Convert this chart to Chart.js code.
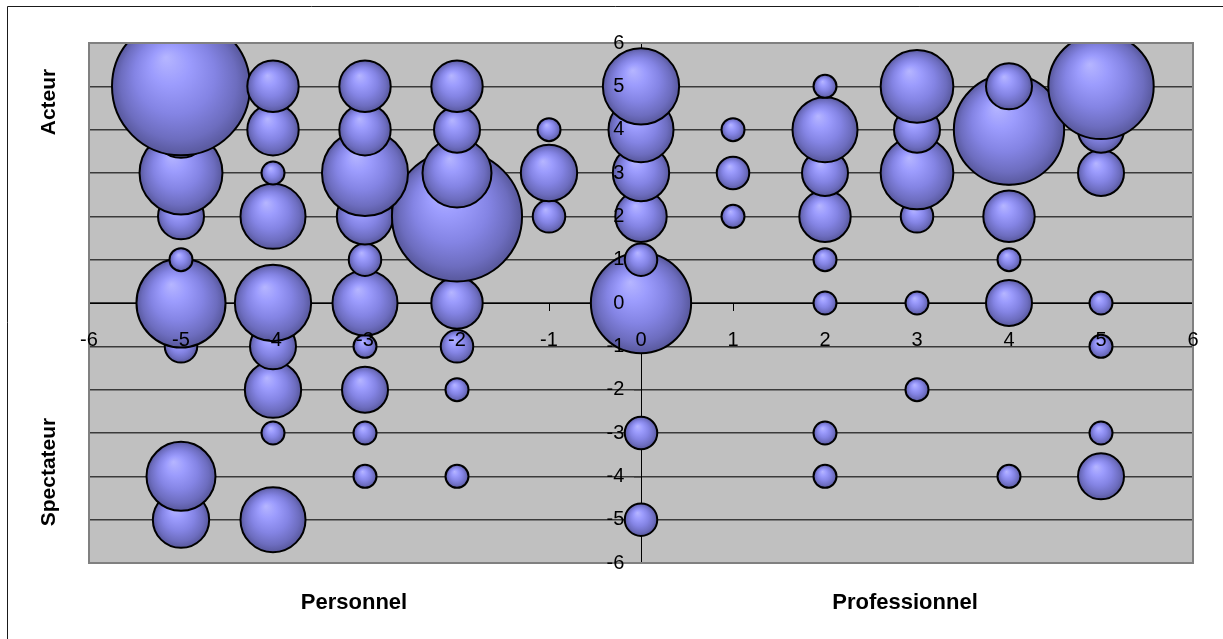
<!DOCTYPE html>
<html>
<head>
<meta charset="utf-8">
<script src="https://cdn.jsdelivr.net/npm/chart.js@4.4.1/dist/chart.umd.min.js"></script>
<style>
  body { margin: 0; background: #fff; }
  canvas { display: block; }
</style>
</head>
<body>
<canvas id="bubbleChart" width="1223" height="639"></canvas>
<script>
// bubble positions, listed row by row from y=-5 up to y=5 (drawing order)
const xPos = [
  -5, -4, 0,
  -5, -3, -2, 2, 4, 5,
  -4, -3, 0, 2, 5,
  -4, -3, -2, 3,
  -5, -4, -3, -2, 5,
  -5, -4, -3, -2, 0, 2, 3, 4, 5,
  -5, -3, 0, 2, 4,
  -5, -4, -3, -2, -1, 0, 1, 2, 3, 4,
  -5, -4, -3, -2, -1, 0, 1, 2, 3, 4, 5,
  -5, -4, -3, -2, -1, 0, 1, 2, 3, 4, 5,
  -5, -4, -3, -2, 0, 2, 3, 4, 5
];
const yPos = [
  -5, -5, -5,
  -4, -4, -4, -4, -4, -4,
  -3, -3, -3, -3, -3,
  -2, -2, -2, -2,
  -1, -1, -1, -1, -1,
  0, 0, 0, 0, 0, 0, 0, 0, 0,
  1, 1, 1, 1, 1,
  2, 2, 2, 2, 2, 2, 2, 2, 2, 2,
  3, 3, 3, 3, 3, 3, 3, 3, 3, 3, 3,
  4, 4, 4, 4, 4, 4, 4, 4, 4, 4, 4,
  5, 5, 5, 5, 5, 5, 5, 5, 5
];
// bubble size (number of answers)
const counts = [
  6, 8, 2,
  9, 1, 1, 1, 1, 4,
  1, 1, 2, 1, 1,
  6, 4, 1, 1,
  2, 4, 1, 2, 1,
  15, 11, 8, 5, 19, 1, 1, 4, 1,
  1, 2, 2, 1, 1,
  4, 8, 6, 32, 2, 5, 1, 5, 2, 5,
  13, 1, 14, 9, 6, 6, 2, 4, 10, 1, 4,
  6, 5, 5, 4, 1, 8, 1, 8, 4, 23, 4,
  36, 5, 5, 5, 11, 1, 10, 4, 21
];
const axisMin = -6;
const axisMax = 6;

const sideLabels = ['Acteur', 'Spectateur'];
const bottomLabels = ['Personnel', 'Professionnel'];

const RADIUS_PER_UNIT = 11.5;
const FONT = "'Liberation Sans', Arial, sans-serif";

const points = xPos.map((x, i) => ({
  x: x,
  y: yPos[i],
  r: RADIUS_PER_UNIT * Math.sqrt(counts[i])
}));

// shaded ball look, like the old Excel bubbles
function bubbleFill(context) {
  const flat = '#8585e6';
  if (context.type !== 'data') return flat;
  const chart = context.chart;
  const px = chart.scales.x.getPixelForValue(context.raw.x);
  const py = chart.scales.y.getPixelForValue(context.raw.y);
  const r = context.raw.r;
  if (!isFinite(px) || !isFinite(py) || !(r > 0)) return flat;
  const g = chart.ctx.createRadialGradient(px - r * 0.22, py - r * 0.42, 0, px, py, r);
  g.addColorStop(0, '#b6b6ff');
  g.addColorStop(0.28, '#9c9cfd');
  g.addColorStop(0.58, '#8484e4');
  g.addColorStop(0.84, '#6d6dbf');
  g.addColorStop(1, '#58589c');
  return g;
}

const plotDecor = {
  id: 'plotDecor',
  beforeDraw(chart) {
    const ctx = chart.ctx;
    const a = chart.chartArea;
    ctx.save();
    // outer frame (only top and left edges are in the picture)
    ctx.strokeStyle = '#1a1a1a';
    ctx.lineWidth = 1;
    ctx.beginPath();
    ctx.moveTo(7.5, chart.height);
    ctx.lineTo(7.5, 6.5);
    ctx.lineTo(chart.width, 6.5);
    ctx.stroke();
    // plot background
    ctx.fillStyle = '#c0c0c0';
    ctx.fillRect(a.left, a.top, a.right - a.left, a.bottom - a.top);
    ctx.restore();
  },
  afterDatasetsDraw(chart) {
    const ctx = chart.ctx;
    const a = chart.chartArea;
    ctx.save();
    ctx.strokeStyle = '#808080';
    ctx.lineWidth = 2;
    ctx.strokeRect(a.left, a.top, a.right - a.left, a.bottom - a.top);
    ctx.restore();
  },
  afterDraw(chart) {
    const ctx = chart.ctx;
    const a = chart.chartArea;
    ctx.save();
    ctx.fillStyle = '#000';
    ctx.textAlign = 'center';
    ctx.textBaseline = 'middle';
    ctx.font = 'bold 21px ' + FONT;
    const sideY = [102, 472];
    sideLabels.forEach((text, i) => {
      ctx.save();
      ctx.translate(49, sideY[i]);
      ctx.rotate(-Math.PI / 2);
      ctx.fillText(text, 0, 0);
      ctx.restore();
    });
    ctx.font = 'bold 22px ' + FONT;
    const bottomX = [354, 905];
    bottomLabels.forEach((text, i) => {
      ctx.fillText(text, bottomX[i], a.bottom + 40);
    });
    ctx.restore();
  }
};

const ctx = document.getElementById('bubbleChart').getContext('2d');
const bubbleChart = new Chart(ctx, {
  type: 'bubble',
  data: {
    datasets: [{
      label: 'Réponses',
      data: points,
      backgroundColor: bubbleFill,
      borderColor: '#000',
      borderWidth: 2,
      clip: 0
    }]
  },
  options: {
    responsive: false,
    animation: false,
    events: [],
    // no extra room for big bubbles, they get clipped at the plot edge
    layout: {
      autoPadding: false,
      padding: { left: 89, top: 43, right: 30, bottom: 76 }
    },
    plugins: {
      legend: { display: false },
      tooltip: { enabled: false }
    },
    scales: {
      x: {
        type: 'linear',
        position: { y: 0 },
        min: axisMin,
        max: axisMax,
        ticks: {
          stepSize: 1,
          color: '#000',
          padding: 18,
          z: 1,
          font: { family: FONT, size: 20 }
        },
        grid: {
          drawOnChartArea: false,
          drawTicks: true,
          tickLength: 7,
          color: '#000'
        },
        border: { color: '#000', width: 1 }
      },
      y: {
        type: 'linear',
        position: { x: 0 },
        min: axisMin,
        max: axisMax,
        ticks: {
          stepSize: 1,
          color: '#000',
          z: 1,
          font: { family: FONT, size: 20 },
          // labels sit a little left of the vertical axis
          callback: value => value + '   '
        },
        grid: {
          drawOnChartArea: true,
          drawTicks: true,
          tickLength: 7,
          color: '#3a3a3a',
          lineWidth: 1.5
        },
        border: { color: '#000', width: 1 }
      }
    }
  },
  plugins: [plotDecor]
});
</script>
</body>
</html>
